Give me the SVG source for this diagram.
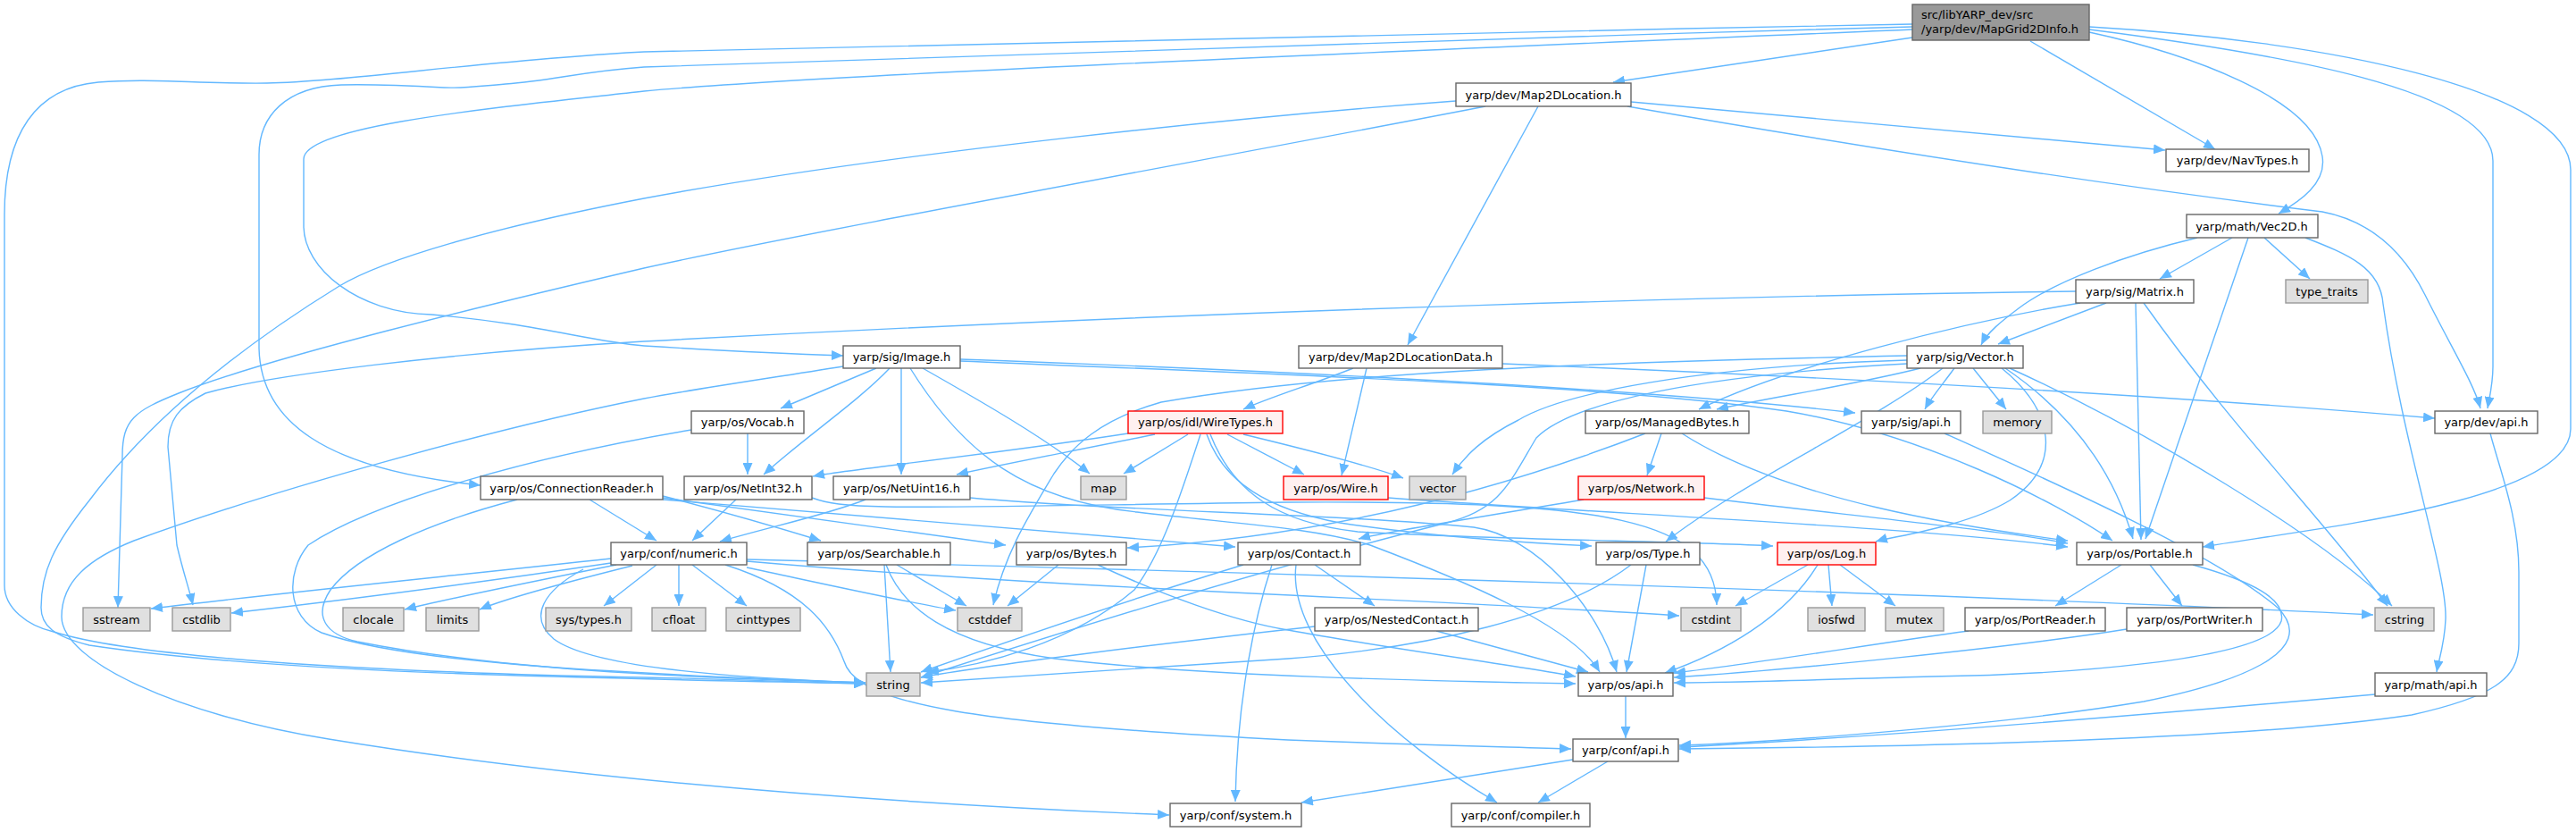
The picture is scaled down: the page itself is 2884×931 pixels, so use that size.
<svg xmlns="http://www.w3.org/2000/svg" width="2884" height="931" viewBox="0 0 2884 931">
<style>
.n rect{fill:#ffffff;stroke:#666666;stroke-width:1.4}
.g rect{fill:#e0e0e0;stroke:#999999;stroke-width:1.4}
.r rect{fill:#fff0f0;stroke:#ff0000;stroke-width:1.4}
.root rect{fill:#999999;stroke:#666666;stroke-width:1.4}
text{font-family:"DejaVu Sans","Liberation Sans",sans-serif;font-size:13px;fill:#000000;text-anchor:middle}
.root text{text-anchor:start}
#edges path{fill:none;stroke:#63b8ff;stroke-width:1.4;marker-end:url(#a)}
</style>
<defs>
<marker id="a" viewBox="0 0 13 11" refX="13" refY="5.5" markerWidth="13" markerHeight="11" markerUnits="userSpaceOnUse" orient="auto">
<path d="M0,0 L13,5.5 L0,11 z" fill="#63b8ff"/>
</marker>
</defs>
<rect width="2884" height="931" fill="#ffffff"/>
<g id="edges">
<path d="M2141,27 C1600,38 1000,48 721,58 C560,66 380,92 299,93 C220,94 170,87 110,92 C40,98 5,150 5,240 L5,655 C5,680 30,700 60,707 C150,735 400,752 721,758 C830,760 900,764 969,765"/>
<path d="M2141,30 C1600,45 1000,62 721,75 C650,80 620,90 566,94 C530,97 520,99 497,98 C460,96 420,94 382,95 C320,97 290,130 290,173 L290,390 C292,470 360,525 538,543"/>
<path d="M2141,33 C1500,60 900,85 721,102 C560,120 340,140 340,178 L340,253 C340,300 400,350 483,352 C600,362 660,382 721,387 C800,392 880,396 944,398"/>
<path d="M2141,42 L1806,92"/>
<path d="M2273,46 L2480,167"/>
<path d="M2339,36 C2450,60 2590,110 2600,175 C2605,205 2575,225 2551,239"/>
<path d="M2339,33 C2550,60 2791,100 2791,180 L2791,410 C2791,430 2787,445 2785,457"/>
<path d="M2339,30 C2600,45 2878,100 2878,190 L2878,480 C2878,560 2600,590 2466,612"/>
<path d="M1826,114 L2424,168"/>
<path d="M1822,119 C2000,150 2300,200 2600,237 C2669,250 2700,300 2715,330 C2745,390 2770,430 2777,457"/>
<path d="M1722,119 L1576,386"/>
<path d="M1663,119 C1400,170 900,260 721,300 C550,340 300,400 200,440 C150,460 137,470 137,510 L132,680"/>
<path d="M1630,113 C1400,130 1000,170 721,222 C550,255 430,290 380,320 C250,400 160,480 100,560 C60,610 46,640 46,680 C46,700 60,712 100,722 C300,752 600,758 969,765"/>
<path d="M944,410 C850,425 780,435 721,446 C550,480 300,550 150,605 C100,625 69,650 69,690 C69,740 200,800 368,827 C600,865 900,895 1309,912"/>
<path d="M981,412 L874,457"/>
<path d="M996,412 C960,450 900,490 855,531"/>
<path d="M1009,412 L1009,531"/>
<path d="M1033,412 C1100,450 1170,490 1220,530"/>
<path d="M1019,412 C1080,510 1150,560 1273,573 C1380,586 1470,590 1534,610 C1640,650 1760,700 1791,752"/>
<path d="M1075,402 C1300,410 1800,430 2077,462"/>
<path d="M1075,404 C1400,418 1800,430 2000,460 C2150,485 2300,560 2365,605"/>
<path d="M837,485 L837,531"/>
<path d="M774,481 C600,510 420,560 345,610 C320,640 320,690 360,708 C450,740 650,752 969,764"/>
<path d="M824,559 L775,605"/>
<path d="M969,559 C930,575 860,590 806,606"/>
<path d="M909,557 C950,572 1000,568 1442,562 C1800,560 1920,580 1922,677"/>
<path d="M1086,557 C1250,572 1500,575 1650,590 C1720,600 1790,680 1810,752"/>
<path d="M660,559 L735,605"/>
<path d="M579,559 C480,585 400,620 370,660 C350,690 365,710 400,718 C550,748 750,758 969,764"/>
<path d="M742,555 C800,570 870,590 919,605"/>
<path d="M742,557 C900,580 1050,600 1126,610"/>
<path d="M742,559 C1000,580 1250,600 1383,612"/>
<path d="M684,625 C500,645 300,665 169,681"/>
<path d="M684,630 C550,650 400,670 259,686"/>
<path d="M690,632 C600,650 500,670 453,682"/>
<path d="M708,633 C640,650 570,668 537,682"/>
<path d="M735,632 L676,678"/>
<path d="M760,632 L760,678"/>
<path d="M775,632 L836,678"/>
<path d="M836,635 C930,655 1020,675 1070,683"/>
<path d="M653,637 C610,660 590,690 620,715 C660,745 800,758 969,764"/>
<path d="M836,628 C1200,660 1600,670 1880,689"/>
<path d="M836,626 C1400,640 2200,665 2657,688"/>
<path d="M812,632 C900,660 930,700 945,740 C960,790 1100,810 1442,828 C1600,834 1700,836 1759,838"/>
<path d="M990,632 L997,752"/>
<path d="M1004,632 L1082,678"/>
<path d="M992,632 C1010,680 1060,720 1181,737 C1350,757 1600,762 1764,765"/>
<path d="M1185,632 L1128,678"/>
<path d="M1229,632 C1300,665 1380,695 1442,705 C1550,725 1700,745 1764,757"/>
<path d="M1472,632 L1539,678"/>
<path d="M1392,632 C1300,660 1150,710 1031,752"/>
<path d="M1472,701 C1300,720 1100,745 1031,758"/>
<path d="M1424,632 C1405,690 1385,780 1383,897"/>
<path d="M1451,632 C1440,720 1560,830 1676,898"/>
<path d="M1826,632 C1750,690 1600,725 1442,737 C1250,750 1100,760 1031,764"/>
<path d="M1608,706 L1778,752"/>
<path d="M1843,632 L1821,752"/>
<path d="M2024,632 L1943,678"/>
<path d="M2047,632 L2051,678"/>
<path d="M2060,632 L2122,678"/>
<path d="M2035,632 C2000,690 1930,730 1864,753"/>
<path d="M2375,632 L2301,678"/>
<path d="M2407,632 L2443,678"/>
<path d="M2455,632 C2520,650 2560,670 2554,695 C2540,740 2300,755 2163,757 C2050,760 1950,764 1874,764"/>
<path d="M2204,706 C2100,720 1950,745 1874,753"/>
<path d="M2381,704 C2250,725 2000,750 1874,758"/>
<path d="M1820,779 L1820,826"/>
<path d="M1761,850 L1457,898"/>
<path d="M1800,852 L1722,898"/>
<path d="M2659,777 C2400,800 2100,825 1880,836"/>
<path d="M2788,485 C2800,530 2820,580 2820,640 L2820,720 C2820,760 2790,780 2700,800 C2500,830 2100,836 1880,838"/>
<path d="M2177,485 C2300,540 2480,620 2550,680 C2600,730 2500,765 2400,785 C2250,810 2000,830 1880,834"/>
<path d="M2499,266 L2418,312"/>
<path d="M2535,266 L2586,312"/>
<path d="M2460,266 C2380,285 2300,315 2260,345 C2240,360 2225,372 2218,386"/>
<path d="M2517,266 L2402,603"/>
<path d="M2581,266 C2630,285 2665,300 2668,340 C2690,500 2740,640 2738,693 C2737,720 2730,740 2728,752"/>
<path d="M2324,326 C2000,330 1400,345 721,382 C500,395 300,420 230,440 C200,455 188,470 188,500 L198,610 C205,640 212,660 216,677"/>
<path d="M2329,339 C2200,360 2000,410 1902,458"/>
<path d="M2358,339 L2237,385"/>
<path d="M2391,339 L2397,604"/>
<path d="M2400,339 C2500,480 2600,580 2673,678"/>
<path d="M2188,412 C2175,430 2162,445 2155,458"/>
<path d="M2209,412 L2246,458"/>
<path d="M2150,412 C2080,430 1980,445 1922,458"/>
<path d="M2175,412 C2100,470 1950,540 1865,606"/>
<path d="M2241,412 C2300,460 2310,520 2250,560 C2200,590 2120,600 2100,606"/>
<path d="M2245,412 C2330,470 2370,540 2388,603"/>
<path d="M2250,412 C2400,480 2600,600 2678,678"/>
<path d="M2135,403 C1900,410 1750,440 1700,470 C1660,490 1640,510 1626,531"/>
<path d="M2135,407 C1900,420 1760,450 1720,490 C1690,540 1680,570 1620,585 C1400,640 1150,720 1031,758"/>
<path d="M2135,398 C1800,405 1500,415 1300,450 C1230,470 1200,500 1180,530 C1150,580 1125,620 1112,677"/>
<path d="M1263,485 C1100,510 950,525 910,533"/>
<path d="M1293,486 C1200,505 1120,520 1071,531"/>
<path d="M1330,486 L1258,530"/>
<path d="M1344,486 C1320,560 1300,620 1270,660 C1200,720 1100,745 1038,752"/>
<path d="M1374,486 L1460,531"/>
<path d="M1392,486 C1450,500 1530,520 1571,535"/>
<path d="M1351,486 C1370,540 1420,570 1500,585 C1600,600 1700,607 1782,611"/>
<path d="M1355,486 C1380,550 1430,585 1520,595 C1700,605 1880,605 1985,611"/>
<path d="M1682,407 C2000,420 2400,440 2726,468"/>
<path d="M1515,412 C1470,430 1420,445 1392,458"/>
<path d="M1530,412 L1502,532"/>
<path d="M1860,485 L1844,532"/>
<path d="M1842,485 C1700,540 1500,600 1262,613"/>
<path d="M1883,485 C2000,560 2200,590 2315,605"/>
<path d="M1773,559 C1650,580 1550,595 1521,603"/>
<path d="M1908,557 C2100,580 2250,595 2315,608"/>
<path d="M1554,557 C1800,575 2150,590 2315,612"/>
</g>
<g id="root" class="root"><rect x="2141" y="5" width="198" height="40"/><text x="2151" y="21">src/libYARP_dev/src</text><text x="2151" y="37">/yarp/dev/MapGrid2DInfo.h</text></g>
<g id="Map2DLocation" class="n"><rect x="1630" y="93" width="196" height="26"/><text x="1728" y="110.5">yarp/dev/Map2DLocation.h</text></g>
<g id="NavTypes" class="n"><rect x="2425" y="167" width="160" height="25"/><text x="2505" y="184">yarp/dev/NavTypes.h</text></g>
<g id="Vec2D" class="n"><rect x="2448" y="240" width="147" height="26"/><text x="2521" y="257.5">yarp/math/Vec2D.h</text></g>
<g id="Matrix" class="n"><rect x="2324" y="313" width="132" height="26"/><text x="2390" y="330.5">yarp/sig/Matrix.h</text></g>
<g id="type_traits" class="g"><rect x="2559" y="313" width="92" height="26"/><text x="2605" y="330.5">type_traits</text></g>
<g id="Image" class="n"><rect x="944" y="387" width="131" height="25"/><text x="1009.5" y="404">yarp/sig/Image.h</text></g>
<g id="Map2DLocationData" class="n"><rect x="1454" y="387" width="228" height="25"/><text x="1568" y="404">yarp/dev/Map2DLocationData.h</text></g>
<g id="Vector" class="n"><rect x="2135" y="387" width="130" height="25"/><text x="2200" y="404">yarp/sig/Vector.h</text></g>
<g id="Vocab" class="n"><rect x="774" y="460" width="126" height="25"/><text x="837" y="477">yarp/os/Vocab.h</text></g>
<g id="WireTypes" class="r"><rect x="1263" y="460" width="173" height="25"/><text x="1349.5" y="477">yarp/os/idl/WireTypes.h</text></g>
<g id="ManagedBytes" class="n"><rect x="1775" y="460" width="183" height="25"/><text x="1866.5" y="477">yarp/os/ManagedBytes.h</text></g>
<g id="sig_api" class="n"><rect x="2084" y="460" width="111" height="25"/><text x="2139.5" y="477">yarp/sig/api.h</text></g>
<g id="memory" class="g"><rect x="2220" y="460" width="77" height="25"/><text x="2258.5" y="477">memory</text></g>
<g id="dev_api" class="n"><rect x="2726" y="460" width="115" height="25"/><text x="2783.5" y="477">yarp/dev/api.h</text></g>
<g id="ConnectionReader" class="n"><rect x="538" y="533" width="204" height="26"/><text x="640" y="550.5">yarp/os/ConnectionReader.h</text></g>
<g id="NetInt32" class="n"><rect x="766" y="533" width="143" height="26"/><text x="837.5" y="550.5">yarp/os/NetInt32.h</text></g>
<g id="NetUint16" class="n"><rect x="933" y="533" width="153" height="26"/><text x="1009.5" y="550.5">yarp/os/NetUint16.h</text></g>
<g id="map" class="g"><rect x="1210" y="533" width="51" height="26"/><text x="1235.5" y="550.5">map</text></g>
<g id="Wire" class="r"><rect x="1437" y="533" width="117" height="26"/><text x="1495.5" y="550.5">yarp/os/Wire.h</text></g>
<g id="vector" class="g"><rect x="1578" y="533" width="63" height="26"/><text x="1609.5" y="550.5">vector</text></g>
<g id="Network" class="r"><rect x="1767" y="533" width="141" height="26"/><text x="1837.5" y="550.5">yarp/os/Network.h</text></g>
<g id="numeric" class="n"><rect x="684" y="607" width="152" height="25"/><text x="760" y="624">yarp/conf/numeric.h</text></g>
<g id="Searchable" class="n"><rect x="904" y="607" width="160" height="25"/><text x="984" y="624">yarp/os/Searchable.h</text></g>
<g id="Bytes" class="n"><rect x="1138" y="607" width="123" height="25"/><text x="1199.5" y="624">yarp/os/Bytes.h</text></g>
<g id="Contact" class="n"><rect x="1386" y="607" width="137" height="25"/><text x="1454.5" y="624">yarp/os/Contact.h</text></g>
<g id="Type" class="n"><rect x="1787" y="607" width="116" height="25"/><text x="1845" y="624">yarp/os/Type.h</text></g>
<g id="Log" class="r"><rect x="1990" y="607" width="110" height="25"/><text x="2045" y="624">yarp/os/Log.h</text></g>
<g id="Portable" class="n"><rect x="2325" y="607" width="141" height="25"/><text x="2395.5" y="624">yarp/os/Portable.h</text></g>
<g id="sstream" class="g"><rect x="93" y="680" width="75" height="26"/><text x="130.5" y="697.5">sstream</text></g>
<g id="cstdlib" class="g"><rect x="193" y="680" width="65" height="26"/><text x="225.5" y="697.5">cstdlib</text></g>
<g id="clocale" class="g"><rect x="384" y="680" width="68" height="26"/><text x="418" y="697.5">clocale</text></g>
<g id="limits" class="g"><rect x="477" y="680" width="59" height="26"/><text x="506.5" y="697.5">limits</text></g>
<g id="sys_types" class="g"><rect x="611" y="680" width="96" height="26"/><text x="659" y="697.5">sys/types.h</text></g>
<g id="cfloat" class="g"><rect x="730" y="680" width="60" height="26"/><text x="760" y="697.5">cfloat</text></g>
<g id="cinttypes" class="g"><rect x="813" y="680" width="83" height="26"/><text x="854.5" y="697.5">cinttypes</text></g>
<g id="cstddef" class="g"><rect x="1072" y="680" width="72" height="26"/><text x="1108" y="697.5">cstddef</text></g>
<g id="NestedContact" class="n"><rect x="1472" y="680" width="183" height="26"/><text x="1563.5" y="697.5">yarp/os/NestedContact.h</text></g>
<g id="cstdint" class="g"><rect x="1882" y="680" width="67" height="26"/><text x="1915.5" y="697.5">cstdint</text></g>
<g id="iosfwd" class="g"><rect x="2024" y="680" width="64" height="26"/><text x="2056" y="697.5">iosfwd</text></g>
<g id="mutex" class="g"><rect x="2111" y="680" width="65" height="26"/><text x="2143.5" y="697.5">mutex</text></g>
<g id="PortReader" class="n"><rect x="2200" y="680" width="157" height="26"/><text x="2278.5" y="697.5">yarp/os/PortReader.h</text></g>
<g id="PortWriter" class="n"><rect x="2381" y="680" width="152" height="26"/><text x="2457" y="697.5">yarp/os/PortWriter.h</text></g>
<g id="cstring" class="g"><rect x="2659" y="680" width="66" height="26"/><text x="2692" y="697.5">cstring</text></g>
<g id="string" class="g"><rect x="970" y="753" width="60" height="26"/><text x="1000" y="770.5">string</text></g>
<g id="os_api" class="n"><rect x="1767" y="753" width="106" height="26"/><text x="1820" y="770.5">yarp/os/api.h</text></g>
<g id="math_api" class="n"><rect x="2659" y="753" width="125" height="26"/><text x="2721.5" y="770.5">yarp/math/api.h</text></g>
<g id="conf_api" class="n"><rect x="1761" y="827" width="118" height="25"/><text x="1820" y="844">yarp/conf/api.h</text></g>
<g id="conf_system" class="n"><rect x="1310" y="899" width="147" height="26"/><text x="1383.5" y="916.5">yarp/conf/system.h</text></g>
<g id="conf_compiler" class="n"><rect x="1625" y="899" width="155" height="26"/><text x="1702.5" y="916.5">yarp/conf/compiler.h</text></g>
</svg>
